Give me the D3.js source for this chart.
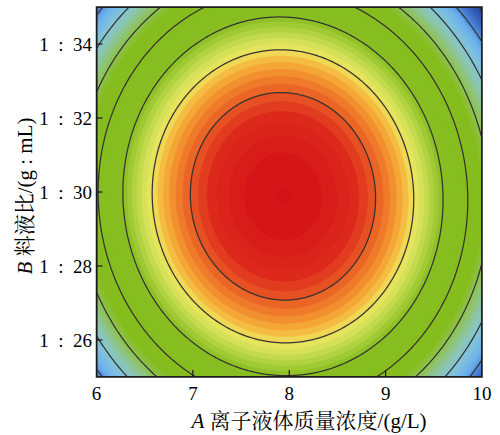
<!DOCTYPE html>
<html>
<head>
<meta charset="utf-8">
<script src="https://cdn.jsdelivr.net/npm/d3@7"></script>
<style>
  body { margin: 0; background: #fff; }
  text { font-family: "Liberation Serif", "Times New Roman", serif; fill: #000; }
</style>
</head>
<body>
<div id="chart"></div>
<script>
// axis ranges and ticks
const xDomain = [6, 10];
const yDomain = [25, 35];
const xTicks = [6, 7, 8, 9, 10];
const yTicks = [26, 28, 30, 32, 34];

// fitted quadratic model in coded units: a = A - 8, b = (B - 30) / 2
// Y = b0 + b1 a + b2 b + b12 a b + b11 a^2 + b22 b^2
const modelTerms = ['b0', 'b1', 'b2', 'b12', 'b11', 'b22'];
const modelCoefs = [10.0, -0.072, -0.031, -0.015, -0.545, -0.256];

// contour lines and filled bands
const lineLevels = [9.5, 9.0, 8.5, 8.0, 7.5, 7.0, 6.5, 6.0, 5.5, 5.0];
const bandStep = 0.5 / 6;

// colour ramp (response value -> colour)
const colorStops = [10.0, 9.7, 9.5, 9.25, 9.1, 9.0, 8.85, 8.65, 8.5, 7.7, 7.45, 7.15, 6.9, 6.65, 6.45, 6.25, 6.05, 5.75];
const colorRange = ['#d51218', '#dc2a1c', '#e85a24', '#f49a30', '#f4c445', '#eee660', '#d0e057', '#a4cc38',
  '#88be22', '#86bd1e', '#8fc35c', '#8cc7b8', '#80c2de', '#6cb2ee', '#4e86d6', '#3a64c0', '#2c4ea4', '#1f3a85'];

const m = {t: 7, r: 18, b: 58, l: 96.5};
const W = 500, H = 435;
const w = 482 - m.l;
const h = 377 - m.t;

const svg = d3.select('#chart').append('svg')
  .attr('width', W)
  .attr('height', H);

const plot = svg.append('g')
  .attr('transform', `translate(${m.l}, ${m.t})`);

const x = d3.scaleLinear().domain(xDomain).range([0, w]);
const y = d3.scaleLinear().domain(yDomain).range([h, 0]);
const color = d3.scaleLinear().domain(colorStops).range(colorRange).clamp(true);

const c = {};
modelTerms.forEach((k, i) => c[k] = modelCoefs[i]);
function response(A, B){
  const a = A - 8, b = (B - 30) / 2;
  return c.b0 + c.b1 * a + c.b2 * b + c.b12 * a * b + c.b11 * a * a + c.b22 * b * b;
}

// sample grid
const nx = 300, ny = 300;
const values = new Array(nx * ny);
for (let j = 0; j < ny; j++){
  for (let i = 0; i < nx; i++){
    const A = x.invert((i + 0.5) * w / nx);
    const B = y.invert((j + 0.5) * h / ny);
    values[j * nx + i] = response(A, B);
  }
}
const vmin = d3.min(values), vmax = d3.max(values);

const proj = d3.geoTransform({
  point: function(px, py){ this.stream.point(px * w / nx, py * h / ny); }
});
const path = d3.geoPath(proj);

plot.append('clipPath').attr('id', 'clip')
  .append('rect').attr('width', w).attr('height', h);

const body = plot.append('g').attr('clip-path', 'url(#clip)');

body.append('rect')
  .attr('width', w).attr('height', h)
  .attr('fill', color(vmin));

const bandThresholds = d3.range(Math.floor(vmin / bandStep) * bandStep, vmax, bandStep);
const bands = d3.contours().size([nx, ny]).thresholds(bandThresholds)(values);

body.selectAll('.band')
  .data(bands)
  .enter()
  .append('path')
  .attr('class', 'band')
  .attr('d', path)
  .attr('fill', d => color(d.value + bandStep / 2))
  .attr('stroke', d => color(d.value + bandStep / 2))
  .attr('stroke-width', 0.6);

const lines = d3.contours().size([nx, ny]).thresholds(lineLevels)(values);

body.selectAll('.cline')
  .data(lines)
  .enter()
  .append('path')
  .attr('class', 'cline')
  .attr('d', path)
  .attr('fill', 'none')
  .attr('stroke', '#333')
  .attr('stroke-width', 1.25);

// frame
plot.append('rect')
  .attr('width', w).attr('height', h)
  .attr('fill', 'none')
  .attr('stroke', '#1a1a1a')
  .attr('stroke-width', 1.5);

// ticks (inward)
plot.selectAll('.xtick')
  .data(xTicks.slice(1, -1))
  .enter().append('line')
  .attr('x1', d => x(d)).attr('x2', d => x(d))
  .attr('y1', h).attr('y2', h - 7)
  .attr('stroke', '#1a1a1a').attr('stroke-width', 1.2);

plot.selectAll('.ytick')
  .data(yTicks)
  .enter().append('line')
  .attr('x1', 0).attr('x2', 6)
  .attr('y1', d => y(d)).attr('y2', d => y(d))
  .attr('stroke', '#1a1a1a').attr('stroke-width', 1.2);

// tick labels
plot.selectAll('.xlab')
  .data(xTicks)
  .enter().append('text')
  .attr('x', d => x(d))
  .attr('y', h + 23)
  .attr('text-anchor', 'middle')
  .style('font-size', '19px')
  .text(d => d);

plot.selectAll('.ylab')
  .data(yTicks)
  .enter().append('text')
  .attr('x', -4.5)
  .attr('y', d => y(d))
  .attr('dy', '0.35em')
  .attr('text-anchor', 'end')
  .style('font-size', '19px')
  .text(d => `1\u2002:\u2002${d}`);

// axis titles
const cjk = '"Noto Serif CJK SC", "Noto Sans CJK SC", sans-serif';

const xt = svg.append('text')
  .attr('x', 309)
  .attr('y', 428)
  .attr('text-anchor', 'middle')
  .style('font-size', '21px');
xt.append('tspan').style('font-style', 'italic').text('A');
xt.append('tspan').style('font-family', cjk).text(' 离子液体质量浓度');
xt.append('tspan').text('/(g/L)');

const yt = svg.append('text')
  .attr('transform', 'translate(32, 196) rotate(-90)')
  .attr('text-anchor', 'middle')
  .style('font-size', '21px');
yt.append('tspan').style('font-style', 'italic').text('B');
yt.append('tspan').style('font-family', cjk).text(' 料液比');
yt.append('tspan').text('/(g : mL)');
</script>
</body>
</html>
